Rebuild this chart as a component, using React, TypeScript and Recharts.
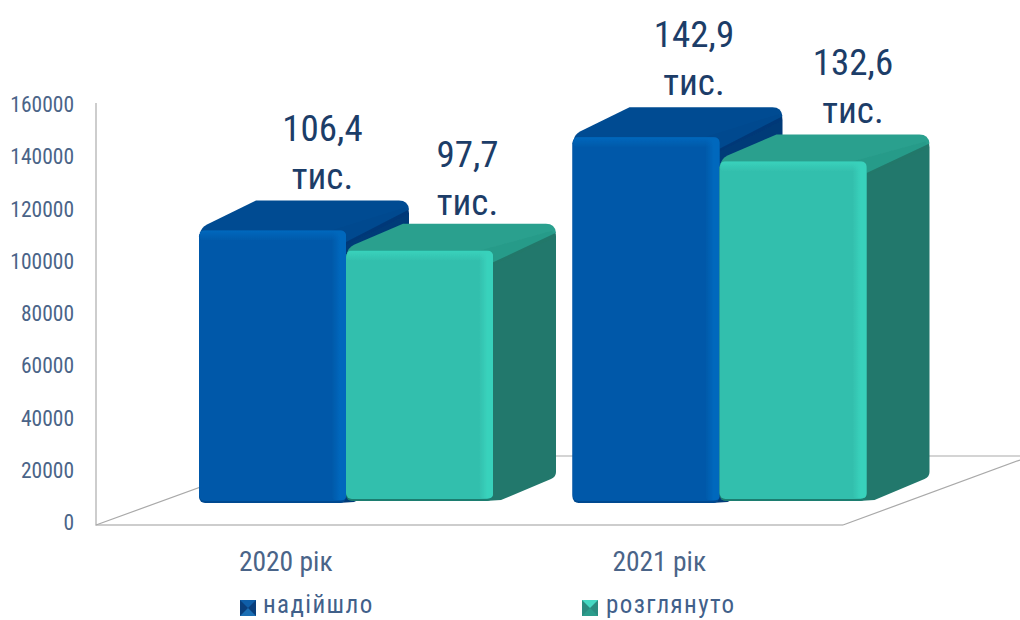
import { BarChart, Bar, XAxis, YAxis, LabelList, Customized } from "recharts";

const categories = ["2020 рік", "2021 рік"];
const received = [106400, 142900];
const reviewed = [97700, 132600];
const receivedLabels = ["106,4", "142,9"];
const reviewedLabels = ["97,7", "132,6"];
const yTicks = [0, 20000, 40000, 60000, 80000, 100000, 120000, 140000, 160000];
const unitLabel = "тис.";
const receivedName = "надійшло";
const reviewedName = "розглянуто";

const chartData = categories.map((name, i) => ({
  name,
  received: received[i],
  reviewed: reviewed[i],
}));

const FONT = "Roboto, sans-serif";
const TICK_COLOR = "#4a6488";
const LABEL_COLOR = "#1c3d68";
const AXIS_COLOR = "#bdbdbd";

// 3D look: the front faces stand forward of the back wall and are a bit smaller than the axis scale
const SHIFT_X = 63;
const DEPTH_X = 63;
const FRONT_SCALE = 0.98;

const BLUE = { id: "blue", front: "#0459a9", strip: "#0668bd", top: "#014c92", side: "#033a78", edge: "#034a90", depthY: 30, lift: 20 };
const TEAL = { id: "teal", front: "#33bfad", strip: "#39d2bc", top: "#2aa08e", side: "#21786c", edge: "#1f7d70", depthY: 27, lift: 22 };

const Bar3D = (props: any) => {
  const { x, y, width, height, colors } = props;
  const { depthY, lift, id } = colors;
  const base = y + height - lift;
  const h = height * FRONT_SCALE;
  const left = x + SHIFT_X;
  const right = left + width;
  const top = base - h;
  return (
    <g filter="url(#soft)">
      <defs>
        <linearGradient id={`strip-${id}`} x1="0" x2="1" y1="0" y2="0">
          <stop offset="0" stopColor={colors.strip} stopOpacity={0} />
          <stop offset="0.6" stopColor={colors.strip} />
          <stop offset="1" stopColor={colors.strip} />
        </linearGradient>
        <linearGradient id={`cap-${id}`} x1="0" x2="0" y1="0" y2="1">
          <stop offset="0" stopColor={colors.strip} />
          <stop offset="1" stopColor={colors.strip} stopOpacity={0} />
        </linearGradient>
        <filter id="soft" x="-5%" y="-5%" width="110%" height="110%">
          <feGaussianBlur stdDeviation="0.5" />
        </filter>
      </defs>
      <path
        d={`M${right - 8} ${top + 4} L${right + DEPTH_X - 4} ${top - depthY + 6} Q${right + DEPTH_X} ${top - depthY + 6} ${right + DEPTH_X} ${top - depthY + 13}
        L${right + DEPTH_X} ${base - depthY - 2} Q${right + DEPTH_X} ${base - depthY + 3} ${right + DEPTH_X - 5} ${base - depthY + 5}
        L${right + 8} ${base - 1} L${right - 8} ${base} Z`}
        fill={colors.side}
      />
      <path
        d={`M${left + 1} ${top + 3} Q${left + 2} ${top - 3} ${left + 8} ${top - 6} L${left + DEPTH_X - 6} ${top - depthY}
        L${right + DEPTH_X - 10} ${top - depthY} Q${right + DEPTH_X - 1} ${top - depthY} ${right + DEPTH_X} ${top - depthY + 9}
        L${right - 1} ${top + 12} Z`}
        fill={colors.top}
      />
      <path
        d={`M${right - 18} ${top + 1} L${right + DEPTH_X - 4} ${top - depthY + 7} L${right + DEPTH_X} ${top - depthY + 13} L${right} ${top + 14} Z`}
        fill={colors.side}
        fillOpacity={0.12}
      />
      <rect x={left} y={top} width={width} height={h} rx={6} fill={colors.edge} />
      <rect x={left} y={top} width={width} height={h - 2} rx={6} fill={colors.front} />
      <rect x={right - 14} y={top + 1} width={14} height={h - 4} rx={4} fill={`url(#strip-${id})`} />
      <rect x={left + 1} y={top} width={width - 2} height={10} rx={4} fill={`url(#cap-${id})`} />
    </g>
  );
};

const FloorLines = () => (
  <g fill="none" stroke={AXIS_COLOR}>
    <path d="M96 103 L96 525 L843 525" strokeWidth={1.5} />
    <path d="M96 525 L286 456 L1020 456" strokeWidth={1.2} stroke="#a9a9a9" />
    <path d="M843 525 L1020 460" strokeWidth={1.2} stroke="#a9a9a9" />
  </g>
);

const YTick = ({ x, y, payload }: any) => (
  <text x={x - 16} y={y + 7} textAnchor="end" fontFamily={FONT} fontSize={21.5} fontStretch="condensed" fill={TICK_COLOR}>
    {payload.value}
  </text>
);

const XTick = ({ x, y, payload }: any) => (
  <text x={x + 3} y={y + 40} textAnchor="middle" fontFamily={FONT} fontSize={27.5} fontStretch="condensed" fill={TICK_COLOR}>
    {payload.value}
  </text>
);

// small per-label nudges, the labels in the source were placed by hand
const makeLabel = (labels: string[], colors: typeof BLUE, nudgeX: number[], nudgeY: number[]) => (props: any) => {
  const { x, y, width, height, index } = props;
  const backTop = y + height - colors.lift - height * FRONT_SCALE - colors.depthY;
  const cx = x + SHIFT_X + width / 2 + 50 + nudgeX[index];
  const by = backTop + nudgeY[index];
  return (
    <g fontFamily={FONT} fontSize={37} fontStretch="condensed" fill={LABEL_COLOR} textAnchor="middle">
      <text x={cx} y={by - 60}>{labels[index]}</text>
      <text x={cx} y={by - 12}>{unitLabel}</text>
    </g>
  );
};

const LegendIcon = ({ top, bottom, sides }: { top: string; bottom: string; sides: string }) => (
  <svg width={16} height={16} style={{ display: "block" }}>
    <rect width={16} height={16} fill={sides} />
    <polygon points="0,0 16,0 8,8" fill={top} />
    <polygon points="0,16 16,16 8,8" fill={bottom} />
  </svg>
);

const legendText = {
  position: "absolute",
  top: 593,
  fontFamily: FONT,
  fontSize: 25,
  fontStretch: "condensed",
  letterSpacing: 1.4,
  color: "#41608a",
  lineHeight: "24px",
} as const;

export default function App() {
  return (
    <div style={{ position: "absolute", left: 0, top: 0, width: 1020, height: 620, background: "#fff", overflow: "hidden" }}>
      <BarChart
        width={1020}
        height={620}
        data={chartData}
        barSize={147}
        barGap={0}
        margin={{ top: 105, right: 177, bottom: 0, left: 0 }}
      >
        <Customized component={FloorLines} />
        <XAxis dataKey="name" axisLine={false} tickLine={false} height={97} tick={XTick} interval={0} />
        <YAxis domain={[0, 160000]} ticks={yTicks} width={96} axisLine={false} tickLine={false} tickMargin={0} tick={YTick} interval={0} />
        <Bar dataKey="received" name={receivedName} isAnimationActive={false} shape={(p: any) => <Bar3D {...p} colors={BLUE} />}>
          <LabelList dataKey="received" content={makeLabel(receivedLabels, BLUE, [0, -2], [0, 0])} />
        </Bar>
        <Bar dataKey="reviewed" name={reviewedName} isAnimationActive={false} shape={(p: any) => <Bar3D {...p} colors={TEAL} />}>
          <LabelList dataKey="reviewed" content={makeLabel(reviewedLabels, TEAL, [-2, 10], [3, 0])} />
        </Bar>
      </BarChart>
      <div style={{ position: "absolute", left: 240, top: 600 }}>
        <LegendIcon top="#0f5ea8" bottom="#1c6fb4" sides="#0a3f7c" />
      </div>
      <div style={{ ...legendText, left: 263 }}>{receivedName}</div>
      <div style={{ position: "absolute", left: 582, top: 600 }}>
        <LegendIcon top="#45d9c3" bottom="#2b9d8c" sides="#2a8c80" />
      </div>
      <div style={{ ...legendText, left: 606 }}>{reviewedName}</div>
    </div>
  );
}
